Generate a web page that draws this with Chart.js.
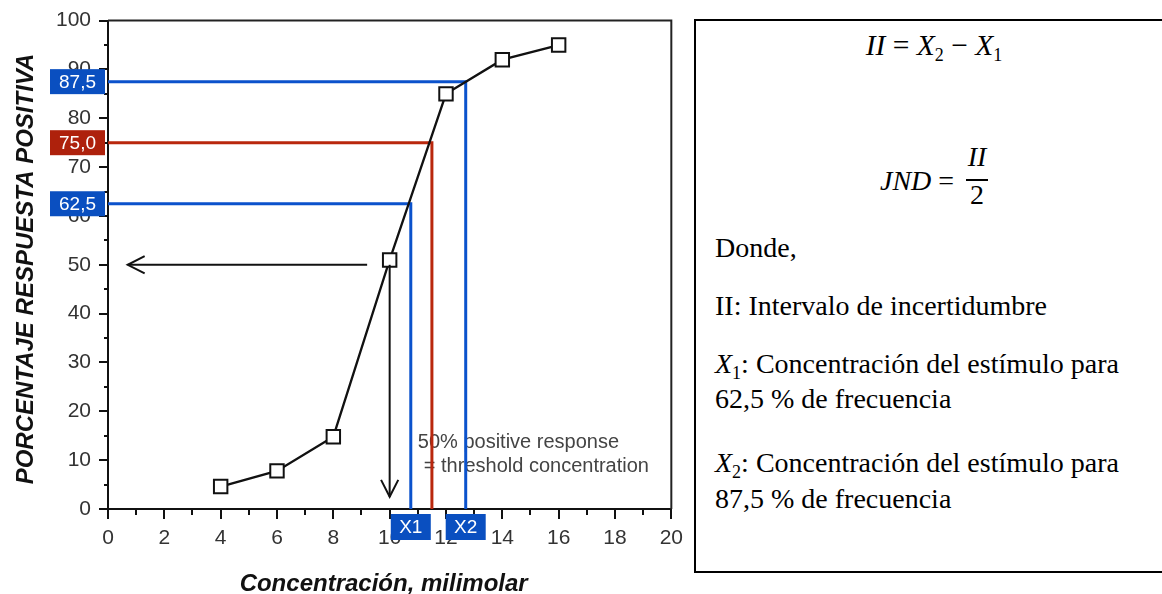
<!DOCTYPE html>
<html><head><meta charset="utf-8">
<script src="https://cdn.jsdelivr.net/npm/chart.js@4"></script>
<style>
html,body{margin:0;padding:0;background:#fff;width:1162px;height:594px;overflow:hidden;}
#wrap{position:absolute;left:0;top:0;width:690px;height:594px;}
#box{position:absolute;left:694px;top:19px;width:480px;height:554px;box-sizing:border-box;border:2px solid #000;font-family:"Liberation Serif","Times New Roman",serif;color:#000;}
.ln{position:absolute;left:19px;font-size:28px;line-height:28px;white-space:nowrap;}
.c{left:0;width:100%;text-align:center;}
i{font-style:italic;}
.sb{font-size:18px;position:relative;top:6px;font-style:normal;}
</style>
</head><body>
<div id="wrap"><canvas id="c"></canvas></div>
<div id="box">
  <div class="ln c" style="top:10px;font-size:29.5px;"><i>II</i> = <i>X</i><span class="sb">2</span> − <i>X</i><span class="sb">1</span></div>
  <div class="ln" style="left:184px;top:145.5px;"><i>JND</i> =</div>
  <div class="ln" style="left:270px;width:22px;text-align:center;top:122px;"><i>II</i></div>
  <div style="position:absolute;left:270px;top:158px;width:22px;height:2px;background:#000;"></div>
  <div class="ln" style="left:270px;width:22px;text-align:center;top:159.5px;">2</div>
  <div class="ln" style="top:212.9px;">Donde,</div>
  <div class="ln" style="top:270.5px;">II: Intervalo de incertidumbre</div>
  <div class="ln" style="top:328.9px;"><i>X</i><span class="sb">1</span>: Concentración del estímulo para</div>
  <div class="ln" style="top:363.9px;">62,5 % de frecuencia</div>
  <div class="ln" style="top:428.2px;"><i>X</i><span class="sb">2</span>: Concentración del estímulo para</div>
  <div class="ln" style="top:463.9px;">87,5 % de frecuencia</div>
</div>
<script>
// ---- data ----
const concentration = [4, 6, 8, 10, 12, 14, 16];
const positiveResponse = [4.6, 7.8, 14.8, 51, 85, 92, 95];
const levelPercents = [62.5, 75.0, 87.5];
const levelConcentrations = [10.75, 11.5, 12.7];
const levelLabels = ['62,5', '75,0', '87,5'];
const levelXLabels = ['X1', '', 'X2'];
const arrowStarts = [[9.2, 50], [10, 50]];
const arrowEnds = [[0.7, 50], [10, 2.5]];
const noteLines = ['50% positive response', '= threshold concentration'];
const noteAnchor = [11.0, 12.5];
const xTitle = 'Concentración, milimolar';
const yTitle = 'PORCENTAJE RESPUESTA POSITIVA';

const BLUE_LINE = '#0b52cc', BLUE_BOX = '#0a4fc0', RED_LINE = '#b9270d', RED_BOX = '#ae210c';
const levelLineColors = [BLUE_LINE, RED_LINE, BLUE_LINE];
const levelBoxColors = [BLUE_BOX, RED_BOX, BLUE_BOX];
const SANS = '"Liberation Sans", Arial, Helvetica, sans-serif';

const levelDatasets = levelPercents.map((p, i) => ({
  data: [{x: 0, y: p}, {x: levelConcentrations[i], y: p}, {x: levelConcentrations[i], y: 0}],
  borderColor: levelLineColors[i], borderWidth: 3, pointRadius: 0, showLine: true,
  fill: false, tension: 0, order: 2
}));

const mainDataset = {
  data: concentration.map((x, i) => ({x, y: positiveResponse[i]})),
  borderColor: '#111', borderWidth: 2.3, showLine: true, tension: 0,
  pointStyle: 'rect', pointRadius: 9.5, pointHoverRadius: 9.5,
  pointBackgroundColor: '#fff', pointBorderColor: '#111', pointBorderWidth: 2, order: 0
};

function arrowHead(ctx, x0, y0, x1, y1) {
  const ang = Math.atan2(y1 - y0, x1 - x0);
  const L = 19, A = 0.47;
  ctx.beginPath();
  ctx.moveTo(x1 - L * Math.cos(ang - A), y1 - L * Math.sin(ang - A));
  ctx.lineTo(x1, y1);
  ctx.lineTo(x1 - L * Math.cos(ang + A), y1 - L * Math.sin(ang + A));
  ctx.stroke();
}

const custom = {
  id: 'custom',
  beforeDatasetsDraw(chart) {
    const {ctx, scales: {x, y}} = chart;
    ctx.save();
    ctx.fillStyle = '#444';
    ctx.font = '20px ' + SANS;
    ctx.textBaseline = 'alphabetic';
    ctx.textAlign = 'left';
    const px = x.getPixelForValue(noteAnchor[0]), py = y.getPixelForValue(noteAnchor[1]);
    ctx.fillText(noteLines[0], px, py);
    ctx.fillText(noteLines[1], px + 6, py + 24);
    ctx.restore();
  },
  afterDatasetsDraw(chart) {
    const {ctx, chartArea: a, scales: {x, y}} = chart;
    ctx.save();
    // frame top & right
    ctx.strokeStyle = '#222'; ctx.lineWidth = 2;
    ctx.beginPath();
    ctx.moveTo(a.left, a.top); ctx.lineTo(a.right, a.top); ctx.lineTo(a.right, a.bottom);
    ctx.stroke();
    // ticks
    ctx.strokeStyle = '#111'; ctx.lineWidth = 2;
    for (let v = 0; v <= 100; v += 5) {
      const py = Math.round(y.getPixelForValue(v));
      const len = v % 10 === 0 ? 9 : 4;
      ctx.beginPath(); ctx.moveTo(a.left, py); ctx.lineTo(a.left - len, py); ctx.stroke();
    }
    for (let v = 0; v <= 20; v += 1) {
      const px = Math.round(x.getPixelForValue(v));
      const len = v % 2 === 0 ? 10 : 6;
      ctx.beginPath(); ctx.moveTo(px, a.bottom); ctx.lineTo(px, a.bottom + len); ctx.stroke();
    }
    // arrows
    ctx.strokeStyle = '#111'; ctx.lineWidth = 2;
    arrowStarts.forEach((s, i) => {
      const x0 = x.getPixelForValue(s[0]), y0 = y.getPixelForValue(s[1]);
      const x1 = x.getPixelForValue(arrowEnds[i][0]), y1 = y.getPixelForValue(arrowEnds[i][1]);
      ctx.beginPath(); ctx.moveTo(x0, y0); ctx.lineTo(x1, y1); ctx.stroke();
      arrowHead(ctx, x0, y0, x1, y1);
    });
    // level label boxes on y axis
    ctx.font = '19px ' + SANS;
    ctx.textAlign = 'center'; ctx.textBaseline = 'middle';
    levelPercents.forEach((p, i) => {
      const py = y.getPixelForValue(p);
      ctx.fillStyle = levelBoxColors[i];
      ctx.fillRect(a.left - 58, py - 12.5, 55, 25);
      ctx.fillStyle = '#fff';
      ctx.fillText(levelLabels[i], a.left - 30.5, py + 1);
      if (levelXLabels[i]) {
        const px = x.getPixelForValue(levelConcentrations[i]);
        ctx.fillStyle = levelBoxColors[i];
        ctx.fillRect(px - 20, a.bottom + 5, 40, 26);
        ctx.fillStyle = '#fff';
        ctx.fillText(levelXLabels[i], px, a.bottom + 18.5);
      }
    });
    // axis titles
    ctx.fillStyle = '#111';
    ctx.font = 'italic bold 24px ' + SANS;
    ctx.textAlign = 'center'; ctx.textBaseline = 'alphabetic';
    ctx.fillText(xTitle, (a.left + a.right) / 2 - 6, 591);
    ctx.translate(33, 269);
    ctx.rotate(-Math.PI / 2);
    ctx.fillText(yTitle, 0, 0);
    ctx.restore();
  }
};

new Chart(document.getElementById('c'), {
  type: 'scatter',
  data: {datasets: [mainDataset, ...levelDatasets]},
  options: {
    responsive: true, maintainAspectRatio: false, animation: false, devicePixelRatio: 1,
    layout: {padding: {left: 0, right: 17, top: 20, bottom: 0}},
    plugins: {legend: {display: false}, tooltip: {enabled: false}},
    events: [],
    scales: {
      x: {
        type: 'linear', min: 0, max: 20,
        ticks: {stepSize: 1, autoSkip: false, maxRotation: 0, padding: 7, color: '#333',
          font: {family: SANS, size: 21},
          callback: v => (v % 2 === 0 ? String(v) : '')},
        grid: {drawOnChartArea: false, tickLength: 10, tickColor: 'rgba(0,0,0,0)'},
        border: {color: '#111', width: 2},
        afterFit: s => { s.height = 85; }
      },
      y: {
        type: 'linear', min: 0, max: 100,
        ticks: {stepSize: 5, autoSkip: false, padding: 8, color: '#333',
          font: {family: SANS, size: 21},
          callback: v => (v % 10 === 0 ? String(v) : '')},
        grid: {drawOnChartArea: false, tickLength: 9, tickColor: 'rgba(0,0,0,0)'},
        border: {color: '#111', width: 2},
        afterFit: s => { s.width = 108; }
      }
    }
  },
  plugins: [custom]
});
</script>
</body></html>
